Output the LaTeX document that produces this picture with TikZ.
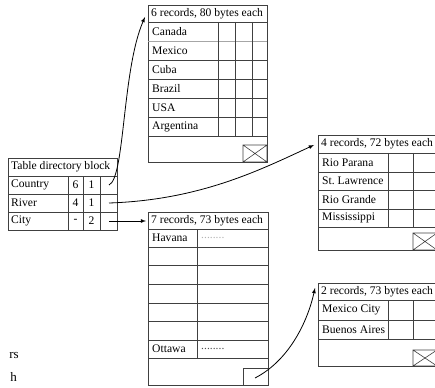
\documentclass[tikz,border=0pt]{standalone}
\usepackage{fontspec}
\setmainfont{Liberation Serif}
\usetikzlibrary{arrows}

\begin{document}
\begin{tikzpicture}[x=1pt,y=-1pt,font=\fontsize{11.6}{13}\selectfont,
  cell/.style={draw=black!75,line width=0.6pt},
  lbl/.style={anchor=west,inner sep=0pt},
  link/.style={-latex,line width=0.8pt}]
\useasboundingbox (0,0) rectangle (435,387);

% directory block
\draw[cell] (8,158) rectangle (117,230);
\foreach \y in {176,194,212} \draw[cell] (8,\y) -- (117,\y);
\foreach \x in {68,83,100} \draw[cell] (\x,176) -- (\x,230);
\node[lbl] (dir) at (11,167) {Table directory block};
\foreach \name/\n/\b/\y/\key in {Country/6/1/185/country, River/4/1/203/river, City/-/2/221/city} {
  \node[lbl] (\key-name) at (11,\y) {\name};
  \node (\key-n) at (75.5,\y) {\n};
  \node (\key-b) at (91.5,\y) {\b};
  \coordinate (\key) at (109,\y);
}

% countries
\draw[cell] (148,5) rectangle (267,162);
\foreach \y in {22,60,79,98,117,136} \draw[cell] (148,\y) -- (267,\y);
\draw[cell,draw=black!35] (148,41) -- (267,41);
\foreach \x in {218,235,252} \draw[cell] (\x,22) -- (\x,136);
\draw[cell] (243,145) rectangle (267,162) (243,145) -- (267,162) (243,162) -- (267,145);
\node[lbl] (hdr-country) at (151,13.5) {6 records, 80 bytes each};
\foreach \name [count=\i] in {Canada,Mexico,Cuba,Brazil,USA,Argentina}
  \node[lbl] (ctry-\i) at (152,{12.5+19*\i}) {\name};
\coordinate (country-in) at (145,17);

% rivers
\draw[cell] (318,135) rectangle (437,250);
\foreach \y in {153,172,190,209,227} \draw[cell] (318,\y) -- (437,\y);
\foreach \x in {388,413} \draw[cell] (\x,153) -- (\x,227);
\draw[cell] (413,233) rectangle (437,250) (413,233) -- (437,250) (413,250) -- (437,233);
\node[lbl] (hdr-river) at (321,144) {4 records, 72 bytes each};
\foreach \name/\y [count=\i] in {Rio Parana/162.5, St.\ Lawrence/181, Rio Grande/199.5, Mississippi/218}
  \node[lbl] (rvr-\i) at (322,\y) {\name};
\coordinate (river-in) at (314,145);

% cities
\draw[cell] (148,212) rectangle (268,385);
\foreach \y in {229,247,265,284,303,321,340,358} \draw[cell] (148,\y) -- (268,\y);
\draw[cell] (197,229) -- (197,358);
\draw[cell] (243,368) rectangle (268,385);
\node[lbl] (hdr-city) at (151,220.5) {7 records, 73 bytes each};
\node[lbl] (cty-1) at (152,238) {Havana};
\node[lbl,text=black!30] (dots-1) at (201,238) {........};
\node[lbl] (cty-7) at (152,349) {Ottawa};
\node[lbl,text=black!70] (dots-7) at (201,349) {........};
\coordinate (city-in) at (146,221);
\coordinate (overflow) at (255,378);

% overflow block
\draw[cell] (318,283) rectangle (437,366);
\foreach \y in {300,320,339} \draw[cell] (318,\y) -- (437,\y);
\foreach \x in {388,413} \draw[cell] (\x,300) -- (\x,339);
\draw[cell] (413,350) rectangle (437,366) (413,350) -- (437,366) (413,366) -- (437,350);
\node[lbl] (hdr-ovf) at (321,291.5) {2 records, 73 bytes each};
\node[lbl] (ovf-1) at (322,310) {Mexico City};
\node[lbl] (ovf-2) at (322,329.5) {Buenos Aires};
\coordinate (overflow-in) at (315,288);

% pointers
\draw[link] (country) .. controls (125,178) and (122,70) .. (country-in);
\draw[link] (river) .. controls (200,200) and (260,170) .. (river-in);
\draw[link] (city) -- (city-in);
\draw[link] (overflow) .. controls (290,360) and (308,320) .. (overflow-in);

% cut text at the left edge
\node[anchor=base east,inner sep=0pt,font=\fontsize{13}{15}\selectfont] (frag-a) at (19,358) {rs};
\node[anchor=base east,inner sep=0pt,font=\fontsize{13}{15}\selectfont] (frag-b) at (17,381) {h};
\end{tikzpicture}
\end{document}
